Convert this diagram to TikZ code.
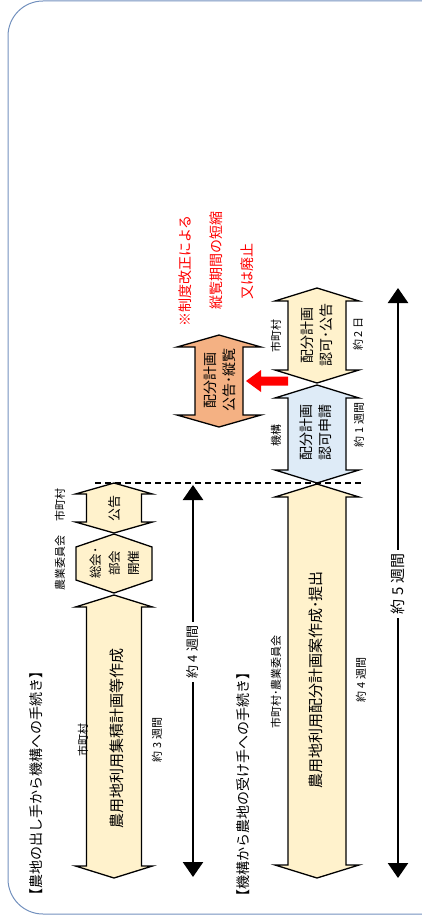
\documentclass[tikz,border=0pt]{standalone}
\usepackage{fontspec}
\setmainfont{Noto Sans CJK JP}
\usetikzlibrary{arrows.meta}
\definecolor{frameblue}{RGB}{115,145,190}
\definecolor{lyellow}{RGB}{255,242,204}
\definecolor{lblue}{RGB}{222,235,247}
\definecolor{lorange}{RGB}{244,177,131}
% #1 cx, #2 top tip, #3 bottom tip, #4 body half width, #5 head half width, #6 head length, #7 fill
\newcommand\blockarr[7]{%
  \draw[blockarrow,fill=#7] (#1,#2) -- (#1+#5,#2+#6) -- (#1+#4,#2+#6) -- (#1+#4,#3-#6)
    -- (#1+#5,#3-#6) -- (#1,#3) -- (#1-#5,#3-#6) -- (#1-#4,#3-#6) -- (#1-#4,#2+#6)
    -- (#1-#5,#2+#6) -- cycle;}
\begin{document}
\begin{tikzpicture}[x=1pt,y=-1pt,
  blockarrow/.style={draw=black,line width=1.3pt,line join=miter},
  vtext/.style={rotate=90,inner sep=0pt,align=center},
  lbl/.style={vtext,font=\fontsize{11}{13}\selectfont},
  title/.style={vtext,font=\fontsize{14}{16}\selectfont},
  big/.style={vtext,font=\fontsize{15}{18}\selectfont},
  mid/.style={vtext,font=\fontsize{14}{19}\selectfont},
  redtxt/.style={vtext,text=red,font=\fontsize{14}{16}\selectfont},
  spanline/.style={line width=2.5pt,{Triangle[width=20pt,length=15pt]}-{Triangle[width=20pt,length=15pt]}},
  spanlbl/.style={vtext,fill=white,inner xsep=4pt,inner ysep=2pt}]
\useasboundingbox (0,0) rectangle (422,920);
\begin{scope}
  \clip (0,0) rectangle (422,920);
  \draw[frameblue,line width=1pt,rounded corners=35pt] (8,1) rectangle (470,914);
\end{scope}

% dashed separator
\coordinate (dashL) at (95,483);
\coordinate (dashR) at (363,483);
\draw[line width=1.2pt,dash pattern=on 6pt off 4pt] (dashL) -- (dashR);

% ---- section 1 ----
\node[title] (t1) at (36,783) {【農地の出し手から機構への手続き】};
\blockarr{114}{595}{878}{27.5}{38.5}{12}{lyellow}
\node[lbl] (m1) at (83,740) {市町村};
\node[big] (a1) at (117,738) {農用地利用集積計画等作成};
\node[lbl] (w3) at (157,740) {約 3 週間};

\draw[blockarrow,fill=lyellow] (114,534) -- (76,547) -- (76,580) -- (114,593) -- (152,580) -- (152,547) -- cycle;
\node[vtext,font=\fontsize{12.5}{19}\selectfont] (hx) at (115,563) {総会･\\部会\\開催};
\node[lbl] (nk1) at (60,563) {農業委員会};

\blockarr{114}{483}{533}{27.5}{38.5}{11}{lyellow}
\node[vtext,font=\fontsize{13}{15}\selectfont] (kk) at (115,508) {公告};
\node[lbl] (m2) at (60,505) {市町村};

\coordinate (s4top) at (193,485);
\coordinate (s4bot) at (193,877);
\draw[spanline] (s4top) -- (s4bot);
\node[spanlbl,font=\fontsize{13}{15}\selectfont] (w4a) at (193,652) {約 4 週間};

% ---- section 2 ----
\node[title] (t2) at (243,784) {【機構から農地の受け手への手続き】};
\blockarr{317}{484}{878}{29}{42}{13}{lyellow}
\node[lbl] (mn) at (276,682) {市町村･農業委員会};
\node[big] (a2) at (316,680) {農用地利用配分計画案作成･提出};
\node[lbl] (w4b) at (361,680) {約 4 週間};

\blockarr{317}{385}{483}{29}{42}{13}{lblue}
\node[lbl] (kikou) at (276,435) {機構};
\node[mid] (a3) at (316,432) {配分計画\\認可申請};
\node[lbl] (w1) at (359,425) {約 1 週間};

\blockarr{317}{288}{383}{29}{42}{13}{lyellow}
\node[lbl] (m3) at (276,336) {市町村};
\node[mid] (a4) at (317,335) {配分計画\\認可･公告};
\node[lbl] (d2) at (358,334) {約 2 日};

\blockarr{219}{335}{427}{24}{42}{12}{lorange}
\node[mid] (a5) at (220,380) {配分計画\\公告･縦覧};

\fill[red] (246,381) -- (261,370) -- (261,376.5) -- (288,376.5) -- (288,385.5) -- (261,385.5) -- (261,392) -- cycle;

\node[redtxt] (r1) at (185,271) {※制度改正による};
\node[redtxt] (r2) at (216,260) {縦覧期間の短縮};
\node[redtxt] (r3) at (247,271) {又は廃止};

\coordinate (s5top) at (398,288);
\coordinate (s5bot) at (398,878);
\draw[spanline] (s5top) -- (s5bot);
\node[spanlbl,font=\fontsize{15}{17}\selectfont] (w5) at (398,584) {約 5 週間};
\end{tikzpicture}
\end{document}
